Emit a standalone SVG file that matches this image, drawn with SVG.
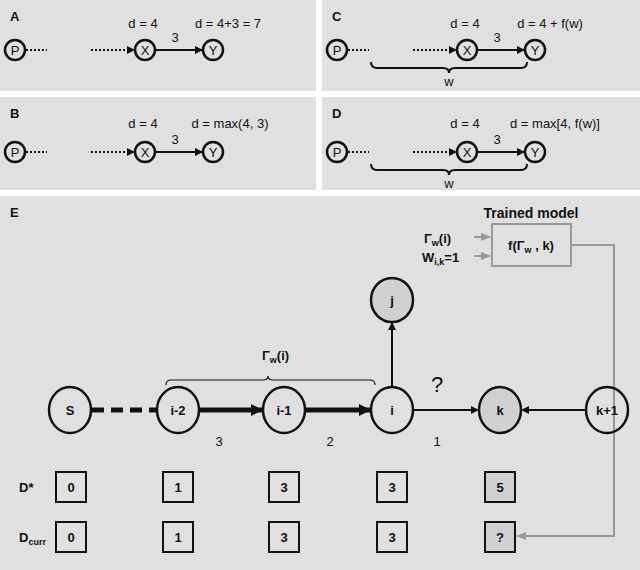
<svg xmlns="http://www.w3.org/2000/svg" width="640" height="570" viewBox="0 0 640 570">
<style>
text{font-family:"Liberation Sans",Arial,sans-serif;fill:#111}
.b{font-weight:bold}
.n{fill:none;stroke:#111;stroke-width:2.5}
.g{fill:#d0d0d0;stroke:#111;stroke-width:2.5}
.e{stroke:#111;fill:none}
.bx{fill:none;stroke:#111;stroke-width:2}
.bg{fill:#d0d0d0;stroke:#111;stroke-width:2}
</style>
<defs>
<marker id="a" markerWidth="8" markerHeight="8" refX="7" refY="4" orient="auto" markerUnits="userSpaceOnUse"><path d="M0,0L8,4L0,8z" fill="#111"/></marker>
<marker id="ag" markerWidth="10" markerHeight="8" refX="9" refY="4" orient="auto" markerUnits="userSpaceOnUse"><path d="M0,0L10,4L0,8z" fill="#999"/></marker>
<marker id="ab" markerWidth="12" markerHeight="12" refX="11" refY="6" orient="auto" markerUnits="userSpaceOnUse"><path d="M0,0L12,6L0,12z" fill="#111"/></marker>
</defs>
<rect width="640" height="570" fill="#fff"/>
<rect x="0" y="0" width="316" height="91" fill="#e0e0e0"/>
<rect x="322" y="0" width="318" height="91" fill="#e0e0e0"/>
<rect x="0" y="97" width="316" height="93" fill="#e0e0e0"/>
<rect x="322" y="97" width="318" height="93" fill="#e0e0e0"/>
<rect x="0" y="196" width="640" height="374" fill="#e0e0e0"/>

<g id="panelA" font-size="13">
<text x="10" y="21" class="b">A</text>
<circle cx="15" cy="50" r="10" class="n" fill="none"/><text x="15" y="55" text-anchor="middle">P</text>
<circle cx="145" cy="50" r="10" class="n"/><text x="145" y="55" text-anchor="middle">X</text>
<circle cx="213" cy="50" r="10" class="n"/><text x="213" y="55" text-anchor="middle">Y</text>
<line x1="26" y1="50" x2="47" y2="50" class="e" stroke-width="2" stroke-dasharray="2,2"/>
<line x1="91" y1="50" x2="134" y2="50" class="e" stroke-width="2" stroke-dasharray="2,2" marker-end="url(#a)"/>
<line x1="155" y1="50" x2="202" y2="50" class="e" stroke-width="2" marker-end="url(#a)"/>
<text x="175" y="42" text-anchor="middle">3</text>
<text x="143" y="28" text-anchor="middle">d = 4</text>
<text x="228" y="28" text-anchor="middle">d = 4+3 = 7</text>
</g>
<g id="panelC" font-size="13">
<text x="332" y="21" class="b">C</text>
<circle cx="337" cy="50" r="10" class="n"/><text x="337" y="55" text-anchor="middle">P</text>
<circle cx="467" cy="50" r="10" class="n"/><text x="467" y="55" text-anchor="middle">X</text>
<circle cx="535" cy="50" r="10" class="n"/><text x="535" y="55" text-anchor="middle">Y</text>
<line x1="348" y1="50" x2="369" y2="50" class="e" stroke-width="2" stroke-dasharray="2,2"/>
<line x1="413" y1="50" x2="456" y2="50" class="e" stroke-width="2" stroke-dasharray="2,2" marker-end="url(#a)"/>
<line x1="477" y1="50" x2="524" y2="50" class="e" stroke-width="2" marker-end="url(#a)"/>
<text x="497" y="42" text-anchor="middle">3</text>
<text x="465" y="28" text-anchor="middle">d = 4</text>
<text x="550" y="28" text-anchor="middle">d = 4 + f(w)</text>
<path d="M371,62q0,6 6,6h66q6,0 6,5q0,-5 6,-5h66q6,0 6,-6" class="e" stroke-width="2"/>
<text x="449" y="86" text-anchor="middle">w</text>
</g>
<g id="panelB" font-size="13">
<text x="10" y="118" class="b">B</text>
<circle cx="15" cy="152" r="10" class="n"/><text x="15" y="157" text-anchor="middle">P</text>
<circle cx="145" cy="152" r="10" class="n"/><text x="145" y="157" text-anchor="middle">X</text>
<circle cx="213" cy="152" r="10" class="n"/><text x="213" y="157" text-anchor="middle">Y</text>
<line x1="26" y1="152" x2="47" y2="152" class="e" stroke-width="2" stroke-dasharray="2,2"/>
<line x1="91" y1="152" x2="134" y2="152" class="e" stroke-width="2" stroke-dasharray="2,2" marker-end="url(#a)"/>
<line x1="155" y1="152" x2="202" y2="152" class="e" stroke-width="2" marker-end="url(#a)"/>
<text x="175" y="144" text-anchor="middle">3</text>
<text x="143" y="128" text-anchor="middle">d = 4</text>
<text x="230" y="128" text-anchor="middle">d = max(4, 3)</text>
</g>
<g id="panelD" font-size="13">
<text x="332" y="118" class="b">D</text>
<circle cx="337" cy="152" r="10" class="n"/><text x="337" y="157" text-anchor="middle">P</text>
<circle cx="467" cy="152" r="10" class="n"/><text x="467" y="157" text-anchor="middle">X</text>
<circle cx="535" cy="152" r="10" class="n"/><text x="535" y="157" text-anchor="middle">Y</text>
<line x1="348" y1="152" x2="369" y2="152" class="e" stroke-width="2" stroke-dasharray="2,2"/>
<line x1="413" y1="152" x2="456" y2="152" class="e" stroke-width="2" stroke-dasharray="2,2" marker-end="url(#a)"/>
<line x1="477" y1="152" x2="524" y2="152" class="e" stroke-width="2" marker-end="url(#a)"/>
<text x="497" y="144" text-anchor="middle">3</text>
<text x="465" y="128" text-anchor="middle">d = 4</text>
<text x="555" y="128" text-anchor="middle">d = max[4, f(w)]</text>
<path d="M371,164q0,6 6,6h66q6,0 6,5q0,-5 6,-5h66q6,0 6,-6" class="e" stroke-width="2"/>
<text x="449" y="188" text-anchor="middle">w</text>
</g>

<text x="10" y="217" class="b" font-size="13">E</text>
<g id="model" font-size="13" class="b">
<text x="531" y="218" text-anchor="middle" class="b" font-size="14">Trained model</text>
<rect x="492" y="224" width="79" height="42" fill="none" stroke="#999" stroke-width="2"/>
<text x="531" y="250" text-anchor="middle" class="b" font-size="13">f(Γ<tspan font-size="9" dy="3">w</tspan><tspan dy="-3"> , k)</tspan></text>
<text x="424" y="243" class="b">Γ<tspan font-size="9" dy="3">w</tspan><tspan dy="-3">(i)</tspan></text>
<text x="422" y="262" class="b">W<tspan font-size="9" dy="3">i,k</tspan><tspan dy="-3">=1</tspan></text>
</g>
<g id="connectors">
<line x1="474" y1="237" x2="490" y2="237" stroke="#999" stroke-width="2" marker-end="url(#ag)"/>
<line x1="474" y1="256" x2="490" y2="256" stroke="#999" stroke-width="2" marker-end="url(#ag)"/>
<polyline points="571,245 614,245 614,536 517,536" fill="none" stroke="#999" stroke-width="2" marker-end="url(#ag)"/>
<line x1="92" y1="410" x2="156" y2="410" stroke="#111" stroke-width="5" stroke-dasharray="12,7"/>
<line x1="198" y1="410" x2="262" y2="410" stroke="#111" stroke-width="5" marker-end="url(#ab)"/>
<line x1="306" y1="410" x2="370" y2="410" stroke="#111" stroke-width="5" marker-end="url(#ab)"/>
<line x1="413" y1="410" x2="478" y2="410" stroke="#111" stroke-width="2" marker-end="url(#a)"/>
<line x1="585" y1="410" x2="522" y2="410" stroke="#111" stroke-width="2" marker-end="url(#a)"/>
<line x1="392" y1="387" x2="392" y2="323" stroke="#111" stroke-width="2" marker-end="url(#a)"/>
</g>
<g font-size="13">
<path d="M166,385q0,-5 5,-5h92q5,0 5,-4q0,4 5,4h97q5,0 5,5" fill="none" stroke="#111" stroke-width="1.2"/>
<text x="262" y="360" class="b">Γ<tspan font-size="9" dy="3">w</tspan><tspan dy="-3">(i)</tspan></text>
<text x="219" y="446" text-anchor="middle">3</text>
<text x="330" y="446" text-anchor="middle">2</text>
<text x="437" y="446" text-anchor="middle">1</text>
<text x="437" y="392" text-anchor="middle" font-size="22">?</text>
</g>
<g id="nodeS"><ellipse cx="70" cy="410" rx="21" ry="23" class="n" fill="#e0e0e0"/><text x="70" y="415" text-anchor="middle" class="b" font-size="13">S</text></g>
<g id="nodeI2"><ellipse cx="178" cy="410" rx="21" ry="23" class="n"/><text x="178" y="415" text-anchor="middle" class="b" font-size="13">i-2</text></g>
<g id="nodeI1"><ellipse cx="284" cy="410" rx="21" ry="23" class="n"/><text x="284" y="415" text-anchor="middle" class="b" font-size="13">i-1</text></g>
<g id="nodeI"><ellipse cx="392" cy="410" rx="21" ry="23" class="n"/><text x="392" y="415" text-anchor="middle" class="b" font-size="13">i</text></g>
<g id="nodeK"><ellipse cx="500" cy="410" rx="21" ry="23" class="g"/><text x="500" y="415" text-anchor="middle" class="b" font-size="13">k</text></g>
<g id="nodeK1"><ellipse cx="607" cy="410" rx="21" ry="23" class="n"/><text x="607" y="415" text-anchor="middle" class="b" font-size="13">k+1</text></g>
<g id="nodeJ"><ellipse cx="392" cy="300" rx="21" ry="22" class="g"/><text x="392" y="305" text-anchor="middle" class="b" font-size="13">j</text></g>
<g id="rows" font-size="13" class="b">
<text x="19" y="492" class="b">D*</text>
<text x="19" y="542" class="b">D<tspan font-size="9" dy="3">curr</tspan></text>
<rect x="56" y="472" width="30" height="30" class="bx"/><text x="71" y="492" text-anchor="middle" class="b">0</text>
<rect x="163" y="472" width="30" height="30" class="bx"/><text x="178" y="492" text-anchor="middle" class="b">1</text>
<rect x="269" y="472" width="30" height="30" class="bx"/><text x="284" y="492" text-anchor="middle" class="b">3</text>
<rect x="377" y="472" width="30" height="30" class="bx"/><text x="392" y="492" text-anchor="middle" class="b">3</text>
<rect x="485" y="472" width="30" height="30" class="bg"/><text x="500" y="492" text-anchor="middle" class="b">5</text>
<rect x="56" y="522" width="30" height="30" class="bx"/><text x="71" y="542" text-anchor="middle" class="b">0</text>
<rect x="163" y="522" width="30" height="30" class="bx"/><text x="178" y="542" text-anchor="middle" class="b">1</text>
<rect x="269" y="522" width="30" height="30" class="bx"/><text x="284" y="542" text-anchor="middle" class="b">3</text>
<rect x="377" y="522" width="30" height="30" class="bx"/><text x="392" y="542" text-anchor="middle" class="b">3</text>
<rect x="485" y="522" width="30" height="30" class="bg"/><text x="500" y="542" text-anchor="middle" class="b">?</text>
</g>
</svg>
